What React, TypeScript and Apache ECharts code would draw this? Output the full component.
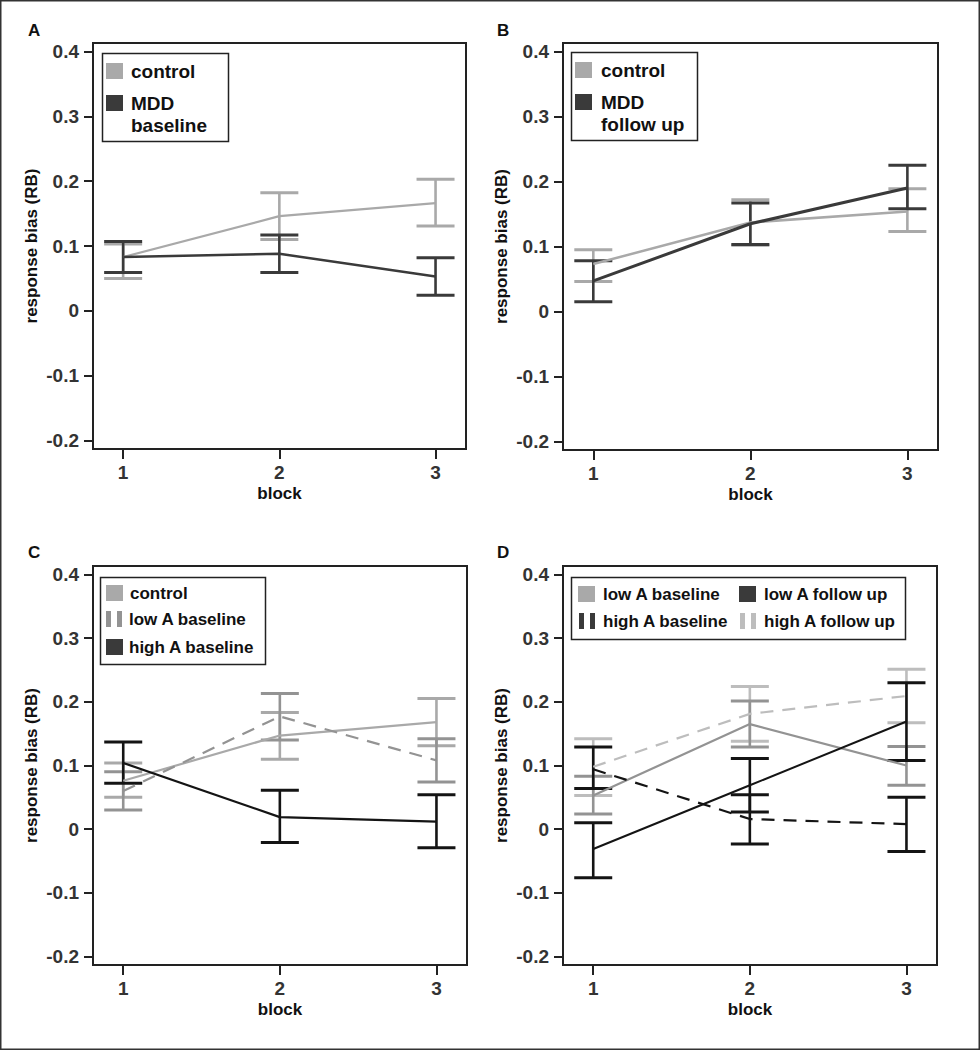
import React, { useEffect, useRef } from "react";
import * as echarts from "echarts";

// ---------- data ----------
const blocks = [1, 2, 3];
const yTicks = [-0.2, -0.1, 0, 0.1, 0.2, 0.3, 0.4];
const panelLetters = ["A", "B", "C", "D"];

// Panel A
const aControlMean = [0.083, 0.146, 0.166];
const aControlLow = [0.05, 0.11, 0.131];
const aControlHigh = [0.103, 0.182, 0.203];
const aMddMean = [0.083, 0.088, 0.053];
const aMddLow = [0.059, 0.059, 0.024];
const aMddHigh = [0.107, 0.117, 0.082];

// Panel B
const bControlMean = [0.073, 0.137, 0.154];
const bControlLow = [0.046, 0.102, 0.123];
const bControlHigh = [0.095, 0.172, 0.189];
const bMddMean = [0.047, 0.135, 0.19];
const bMddLow = [0.015, 0.103, 0.158];
const bMddHigh = [0.078, 0.167, 0.225];

// Panel C
const cControlMean = [0.076, 0.147, 0.168];
const cControlLow = [0.05, 0.11, 0.131];
const cControlHigh = [0.104, 0.183, 0.205];
const cLowAMean = [0.06, 0.177, 0.108];
const cLowALow = [0.03, 0.14, 0.074];
const cLowAHigh = [0.09, 0.213, 0.142];
const cHighAMean = [0.104, 0.019, 0.012];
const cHighALow = [0.072, -0.021, -0.029];
const cHighAHigh = [0.137, 0.061, 0.054];

// Panel D
const dLowABaseMean = [0.053, 0.165, 0.1];
const dLowABaseLow = [0.024, 0.129, 0.069];
const dLowABaseHigh = [0.083, 0.201, 0.13];
const dHighABaseMean = [0.094, 0.016, 0.008];
const dHighABaseLow = [0.064, -0.023, -0.035];
const dHighABaseHigh = [0.129, 0.054, 0.05];
const dLowAFollowMean = [-0.031, 0.069, 0.169];
const dLowAFollowLow = [-0.076, 0.027, 0.108];
const dLowAFollowHigh = [0.01, 0.111, 0.23];
const dHighAFollowMean = [0.098, 0.181, 0.209];
const dHighAFollowLow = [0.053, 0.138, 0.167];
const dHighAFollowHigh = [0.142, 0.224, 0.251];

// legend labels
const legendA = ["control", "MDD\nbaseline"];
const legendB = ["control", "MDD\nfollow up"];
const legendC = ["control", "low A baseline", "high A baseline"];
const legendD = ["low A baseline", "high A baseline", "low A follow up", "high A follow up"];

// ---------- styling ----------
const FONT = "'Liberation Sans', Arial, Helvetica, sans-serif";
const LIGHT = "#a9a9a9";
const MID = "#939393";
const DARK = "#3a3a3a";
const BLACK = "#141414";
const PALE = "#bdbdbd";

const grids = [
  { left: 93, top: 43, width: 373, height: 406 },
  { left: 563, top: 43, width: 375, height: 407 },
  { left: 93, top: 566, width: 374, height: 399 },
  { left: 563, top: 566, width: 374, height: 399 },
];

type S = {
  name: string;
  panel: number;
  mean: number[];
  low: number[];
  high: number[];
  color: string;
  width: number;
  dashed?: boolean;
};

const seriesDefs: S[] = [
  { name: "A control", panel: 0, mean: aControlMean, low: aControlLow, high: aControlHigh, color: LIGHT, width: 2.2 },
  { name: "A MDD baseline", panel: 0, mean: aMddMean, low: aMddLow, high: aMddHigh, color: DARK, width: 2.5 },
  { name: "B control", panel: 1, mean: bControlMean, low: bControlLow, high: bControlHigh, color: LIGHT, width: 2.5 },
  { name: "B MDD follow up", panel: 1, mean: bMddMean, low: bMddLow, high: bMddHigh, color: DARK, width: 3 },
  { name: "C control", panel: 2, mean: cControlMean, low: cControlLow, high: cControlHigh, color: LIGHT, width: 2.2 },
  { name: "C low A baseline", panel: 2, mean: cLowAMean, low: cLowALow, high: cLowAHigh, color: MID, width: 2.2, dashed: true },
  { name: "C high A baseline", panel: 2, mean: cHighAMean, low: cHighALow, high: cHighAHigh, color: BLACK, width: 2.2 },
  { name: "D high A follow up", panel: 3, mean: dHighAFollowMean, low: dHighAFollowLow, high: dHighAFollowHigh, color: PALE, width: 2.2, dashed: true },
  { name: "D low A baseline", panel: 3, mean: dLowABaseMean, low: dLowABaseLow, high: dLowABaseHigh, color: MID, width: 2.2 },
  { name: "D high A baseline", panel: 3, mean: dHighABaseMean, low: dHighABaseLow, high: dHighABaseHigh, color: BLACK, width: 2.2, dashed: true },
  { name: "D low A follow up", panel: 3, mean: dLowAFollowMean, low: dLowAFollowLow, high: dLowAFollowHigh, color: BLACK, width: 2 },
];

function errorBarSeries(s: S) {
  return {
    type: "custom",
    name: s.name + " error",
    xAxisIndex: s.panel,
    yAxisIndex: s.panel,
    encode: { x: 0, y: [1, 2] },
    data: blocks.map((b, i) => [b, s.low[i], s.high[i]]),
    z: 3,
    renderItem: (params: any, api: any) => {
      const x = api.value(0);
      const pLo = api.coord([x, api.value(1)]);
      const pHi = api.coord([x, api.value(2)]);
      const hw = 19;
      return {
        type: "group",
        children: [
          { type: "line", shape: { x1: pLo[0], y1: pLo[1], x2: pHi[0], y2: pHi[1] }, style: { stroke: s.color, lineWidth: 2.6 } },
          { type: "line", shape: { x1: pHi[0] - hw, y1: pHi[1], x2: pHi[0] + hw, y2: pHi[1] }, style: { stroke: s.color, lineWidth: 3 } },
          { type: "line", shape: { x1: pLo[0] - hw, y1: pLo[1], x2: pLo[0] + hw, y2: pLo[1] }, style: { stroke: s.color, lineWidth: 3 } },
        ],
      };
    },
  };
}

function lineSeries(s: S) {
  return {
    type: "line",
    name: s.name,
    xAxisIndex: s.panel,
    yAxisIndex: s.panel,
    data: blocks.map((b, i) => [b, s.mean[i]]),
    symbol: "none",
    z: 4,
    lineStyle: { color: s.color, width: s.width, type: s.dashed ? [13, 9] : "solid" },
  };
}

// ---------- legend graphics ----------
function swatch(x: number, yc: number, color: string, kind: "rect" | "bars") {
  if (kind === "rect") {
    return [{ type: "rect", z: 12, shape: { x, y: yc - 8, width: 17, height: 16 }, style: { fill: color } }];
  }
  return [
    { type: "rect", z: 12, shape: { x, y: yc - 8, width: 5, height: 16 }, style: { fill: color } },
    { type: "rect", z: 12, shape: { x: x + 11, y: yc - 8, width: 5, height: 16 }, style: { fill: color } },
  ];
}

function legendText(x: number, yCenter: number, text: string, size = 17) {
  return {
    type: "text",
    z: 12,
    x,
    y: yCenter - 11,
    style: { text, font: `bold ${size}px ${FONT}`, fill: "#111", textVerticalAlign: "top", lineHeight: 22 },
  };
}

function boxRect(x: number, y: number, w: number, h: number) {
  return { type: "rect", z: 11, shape: { x: x + 0.5, y: y + 0.5, width: w, height: h }, style: { fill: "#fff", stroke: "#222", lineWidth: 1.5 } };
}

function buildGraphics() {
  const g: any[] = [];
  // outer frame
  g.push({ type: "rect", shape: { x: 0.75, y: 0.75, width: 978.5, height: 1048.5 }, style: { fill: "none", stroke: "#333", lineWidth: 1.5 } });
  // panel letters
  const letterPos = [[28, 30], [497, 30], [28, 552], [497, 552]];
  panelLetters.forEach((l, i) => {
    g.push({ type: "text", x: letterPos[i][0], y: letterPos[i][1], style: { text: l, font: `bold 17px ${FONT}`, fill: "#111", textVerticalAlign: "middle" } });
  });

  // A
  g.push(
    boxRect(102, 53, 126, 88),
    ...swatch(106, 71, LIGHT, "rect"),
    legendText(131, 71, legendA[0], 19),
    ...swatch(106, 103, DARK, "rect"),
    legendText(131, 103, legendA[1], 19)
  );
  // B
  g.push(
    boxRect(571, 52, 126, 88),
    ...swatch(575, 70, LIGHT, "rect"),
    legendText(601, 70, legendB[0], 19),
    ...swatch(575, 102, DARK, "rect"),
    legendText(601, 102, legendB[1], 19)
  );
  // C
  g.push(
    boxRect(100, 577, 165, 87),
    ...swatch(106, 593, LIGHT, "rect"),
    legendText(130, 593, legendC[0]),
    ...swatch(106, 619, MID, "bars"),
    legendText(129, 619, legendC[1]),
    ...swatch(106, 647, DARK, "rect"),
    legendText(129, 647, legendC[2])
  );
  // D
  g.push(
    boxRect(571, 577, 334, 62),
    ...swatch(578, 594, LIGHT, "rect"),
    legendText(603, 594, legendD[0]),
    ...swatch(579, 621, DARK, "bars"),
    legendText(603, 621, legendD[1]),
    ...swatch(739, 594, DARK, "rect"),
    legendText(764, 594, legendD[2]),
    ...swatch(740, 621, PALE, "bars"),
    legendText(764, 621, legendD[3])
  );
  return g;
}

function buildOption() {
  const xAxis = grids.map((_, i) => ({
    type: "value",
    gridIndex: i,
    min: 0.807,
    max: 3.195,
    name: "block",
    nameLocation: "middle",
    nameGap: 36,
    nameTextStyle: { fontFamily: FONT, fontSize: 17, fontWeight: "bold", color: "#111" },
    axisLine: { show: true, onZero: false, lineStyle: { color: "#222", width: 2 } },
    axisTick: { show: true, length: 10, inside: false, customValues: blocks, lineStyle: { color: "#222", width: 2 } },
    axisLabel: {
      show: true,
      customValues: blocks,
      margin: 14,
      fontFamily: FONT,
      fontSize: 19,
      fontWeight: "bold",
      color: "#333",
      formatter: (v: number) => String(Math.round(v)),
    },
    splitLine: { show: false },
  }));
  const yAxis = grids.map((_, i) => ({
    type: "value",
    gridIndex: i,
    min: -0.213,
    max: 0.413,
    name: "response bias (RB)",
    nameLocation: "middle",
    nameGap: 53,
    nameTextStyle: { fontFamily: FONT, fontSize: 17, fontWeight: "bold", color: "#111" },
    axisLine: { show: true, onZero: false, lineStyle: { color: "#222", width: 2 } },
    axisTick: { show: true, length: 9, inside: false, customValues: yTicks, lineStyle: { color: "#222", width: 2 } },
    axisLabel: {
      show: true,
      customValues: yTicks,
      margin: 14,
      fontFamily: FONT,
      fontSize: 19,
      fontWeight: "bold",
      color: "#333",
      formatter: (v: number) => (Math.abs(v) < 1e-9 ? "0" : v.toFixed(1)),
    },
    splitLine: { show: false },
  }));

  const series: any[] = [];
  seriesDefs.forEach((s) => {
    series.push(errorBarSeries(s));
    series.push(lineSeries(s));
  });

  return {
    animation: false,
    backgroundColor: "#fff",
    grid: grids.map((g) => ({ ...g, show: true, borderColor: "#222", borderWidth: 2, backgroundColor: "#fff" })),
    xAxis,
    yAxis,
    series,
    graphic: buildGraphics(),
  };
}

export default function App() {
  const ref = useRef<HTMLDivElement>(null);
  useEffect(() => {
    document.body.style.margin = "0";
    if (!ref.current) return;
    const chart = echarts.init(ref.current, undefined, { renderer: "svg" });
    chart.setOption(buildOption() as any);
    return () => chart.dispose();
  }, []);
  return <div ref={ref} style={{ width: 980, height: 1050 }} />;
}
